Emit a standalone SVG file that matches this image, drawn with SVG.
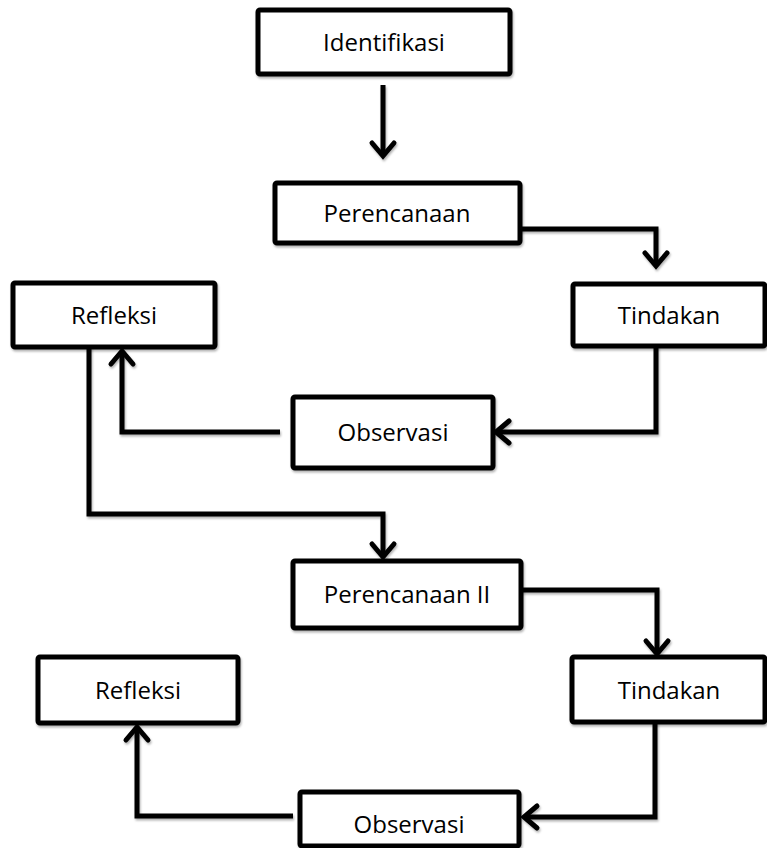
<svg xmlns="http://www.w3.org/2000/svg" width="767" height="848" viewBox="0 0 767 848">
<defs>
<style>
.box{fill:#fff;stroke:#000;stroke-width:5;filter:url(#sh)}
.lbl{font-family:"Open Sans","Liberation Sans",sans-serif;font-size:24px;fill:#000;text-anchor:middle}
.con{fill:none;stroke:#000;stroke-width:5;stroke-linejoin:miter;marker-end:url(#ah);filter:url(#sh)}
</style>
<filter id="sh" filterUnits="userSpaceOnUse" x="0" y="0" width="767" height="848">
<feDropShadow dx="1" dy="2" stdDeviation="1" flood-color="#000" flood-opacity="0.3"/>
</filter>
<marker id="ah" markerUnits="userSpaceOnUse" markerWidth="40" markerHeight="40" refX="0" refY="0" orient="auto" overflow="visible">
<path d="M-13,-11 L0,0 L-13,11" fill="none" stroke="#000" stroke-width="5" stroke-linecap="round" stroke-linejoin="miter"/>
</marker>
</defs>
<g id="connectors">
<path class="con" d="M383,85 V156"/>
<path class="con" d="M520,229 H656 V266"/>
<path class="con" d="M656,346 V432 H496"/>
<path class="con" d="M280,432 H122 V351"/>
<path class="con" d="M89,347 V514 H383 V557"/>
<path class="con" d="M521,590 H657 V654"/>
<path class="con" d="M655,722 V817 H524"/>
<path class="con" d="M293,816 H137 V727"/>
</g>
<g id="identifikasi"><rect class="box" x="258" y="10" width="252" height="64" rx="2"/><text class="lbl" x="384" y="51">Identifikasi</text></g>
<g id="perencanaan"><rect class="box" x="275" y="183" width="245" height="60" rx="2"/><text class="lbl" x="397" y="222">Perencanaan</text></g>
<g id="tindakan"><rect class="box" x="573" y="284" width="192" height="62" rx="2"/><text class="lbl" x="669" y="324">Tindakan</text></g>
<g id="refleksi"><rect class="box" x="13" y="283" width="202" height="64" rx="2"/><text class="lbl" x="114" y="324">Refleksi</text></g>
<g id="observasi"><rect class="box" x="293" y="397" width="200" height="71" rx="2"/><text class="lbl" x="393" y="441">Observasi</text></g>
<g id="perencanaan2"><rect class="box" x="293" y="561" width="228" height="67" rx="2"/><text class="lbl" x="407" y="603">Perencanaan II</text></g>
<g id="tindakan2"><rect class="box" x="572" y="657" width="193" height="65" rx="2"/><text class="lbl" x="669" y="699">Tindakan</text></g>
<g id="refleksi2"><rect class="box" x="38" y="657" width="200" height="66" rx="2"/><text class="lbl" x="138" y="699">Refleksi</text></g>
<g id="observasi2"><rect class="box" x="300" y="792" width="219" height="54" rx="2"/><text class="lbl" x="409" y="833">Observasi</text></g>
</svg>
